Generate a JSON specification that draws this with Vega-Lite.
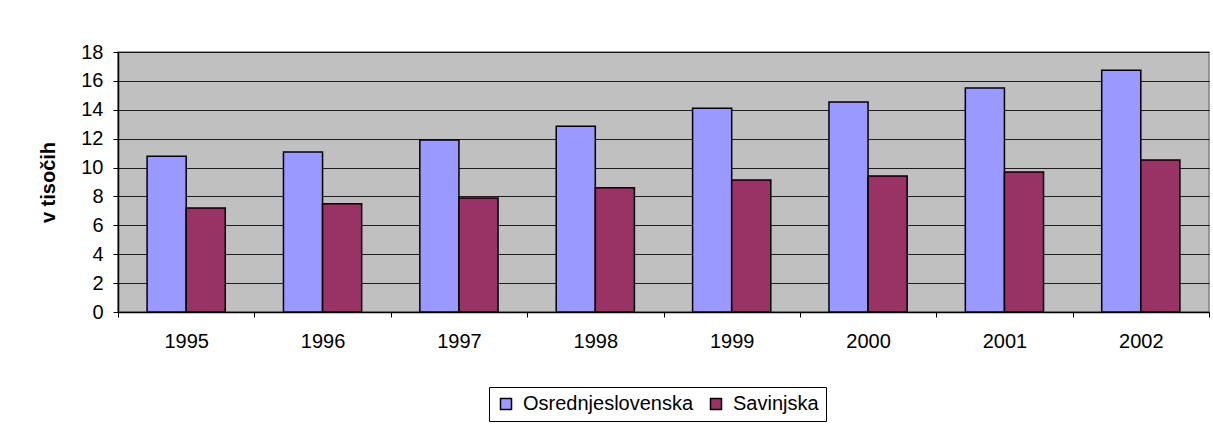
{
  "$schema": "https://vega.github.io/schema/vega-lite/v6.json",
  "width": 1091,
  "height": 260,
  "autosize": {"type": "none"},
  "padding": {"left": 118, "top": 52, "right": 4, "bottom": 120},
  "background": "white",
  "data": {
    "values": [
      {"year": "1995", "region": "Osrednjeslovenska", "value": 10.78},
      {"year": "1995", "region": "Savinjska", "value": 7.2},
      {"year": "1996", "region": "Osrednjeslovenska", "value": 11.08},
      {"year": "1996", "region": "Savinjska", "value": 7.5},
      {"year": "1997", "region": "Osrednjeslovenska", "value": 11.91},
      {"year": "1997", "region": "Savinjska", "value": 7.9},
      {"year": "1998", "region": "Osrednjeslovenska", "value": 12.86},
      {"year": "1998", "region": "Savinjska", "value": 8.61},
      {"year": "1999", "region": "Osrednjeslovenska", "value": 14.1},
      {"year": "1999", "region": "Savinjska", "value": 9.14},
      {"year": "2000", "region": "Osrednjeslovenska", "value": 14.54},
      {"year": "2000", "region": "Savinjska", "value": 9.42},
      {"year": "2001", "region": "Osrednjeslovenska", "value": 15.51},
      {"year": "2001", "region": "Savinjska", "value": 9.7},
      {"year": "2002", "region": "Osrednjeslovenska", "value": 16.74},
      {"year": "2002", "region": "Savinjska", "value": 10.53}
    ]
  },
  "mark": {"type": "bar", "stroke": "black", "strokeWidth": 1.5},
  "encoding": {
    "x": {
      "field": "year",
      "type": "nominal",
      "scale": {"paddingInner": 0, "paddingOuter": 0},
      "axis": {
        "title": null,
        "labelAngle": 0,
        "tickBand": "extent",
        "tickSize": 5,
        "tickColor": "black",
        "domainColor": "black",
        "labelFont": "Liberation Sans",
        "labelFontSize": 20,
        "labelColor": "black",
        "labelPadding": 14,
        "grid": false
      }
    },
    "xOffset": {
      "field": "region",
      "type": "nominal",
      "scale": {"paddingInner": 0, "paddingOuter": 0.744}
    },
    "y": {
      "field": "value",
      "type": "quantitative",
      "scale": {"domain": [0, 18], "nice": false},
      "axis": {
        "title": "v tisočih",
        "titleFont": "Liberation Sans",
        "titleFontSize": 20,
        "titleFontWeight": "bold",
        "titleColor": "black",
        "titlePadding": 22,
        "values": [0, 2, 4, 6, 8, 10, 12, 14, 16, 18],
        "labelFont": "Liberation Sans",
        "labelFontSize": 20,
        "labelColor": "black",
        "labelPadding": 10,
        "tickSize": 5,
        "tickColor": "black",
        "domainColor": "black",
        "grid": true,
        "gridColor": "black",
        "gridOpacity": 0.85,
        "gridWidth": 1
      }
    },
    "color": {
      "field": "region",
      "type": "nominal",
      "scale": {"domain": ["Osrednjeslovenska", "Savinjska"], "range": ["#9999FF", "#993366"]},
      "legend": {
        "title": null,
        "orient": "none",
        "legendX": 371,
        "legendY": 335,
        "direction": "horizontal",
        "symbolType": "square",
        "symbolSize": 121,
        "symbolStrokeColor": "black",
        "symbolStrokeWidth": 1.5,
        "symbolOpacity": 1,
        "labelFont": "Liberation Sans",
        "labelFontSize": 20,
        "labelColor": "black",
        "labelLimit": 0,
        "labelOffset": 7,
        "columnPadding": 12,
        "strokeColor": "black",
        "fillColor": "white",
        "padding": 7
      }
    }
  },
  "config": {
    "view": {"fill": "#C0C0C0", "stroke": "#808080", "strokeWidth": 1.5},
    "axis": {"domainWidth": 1.5}
  }
}
